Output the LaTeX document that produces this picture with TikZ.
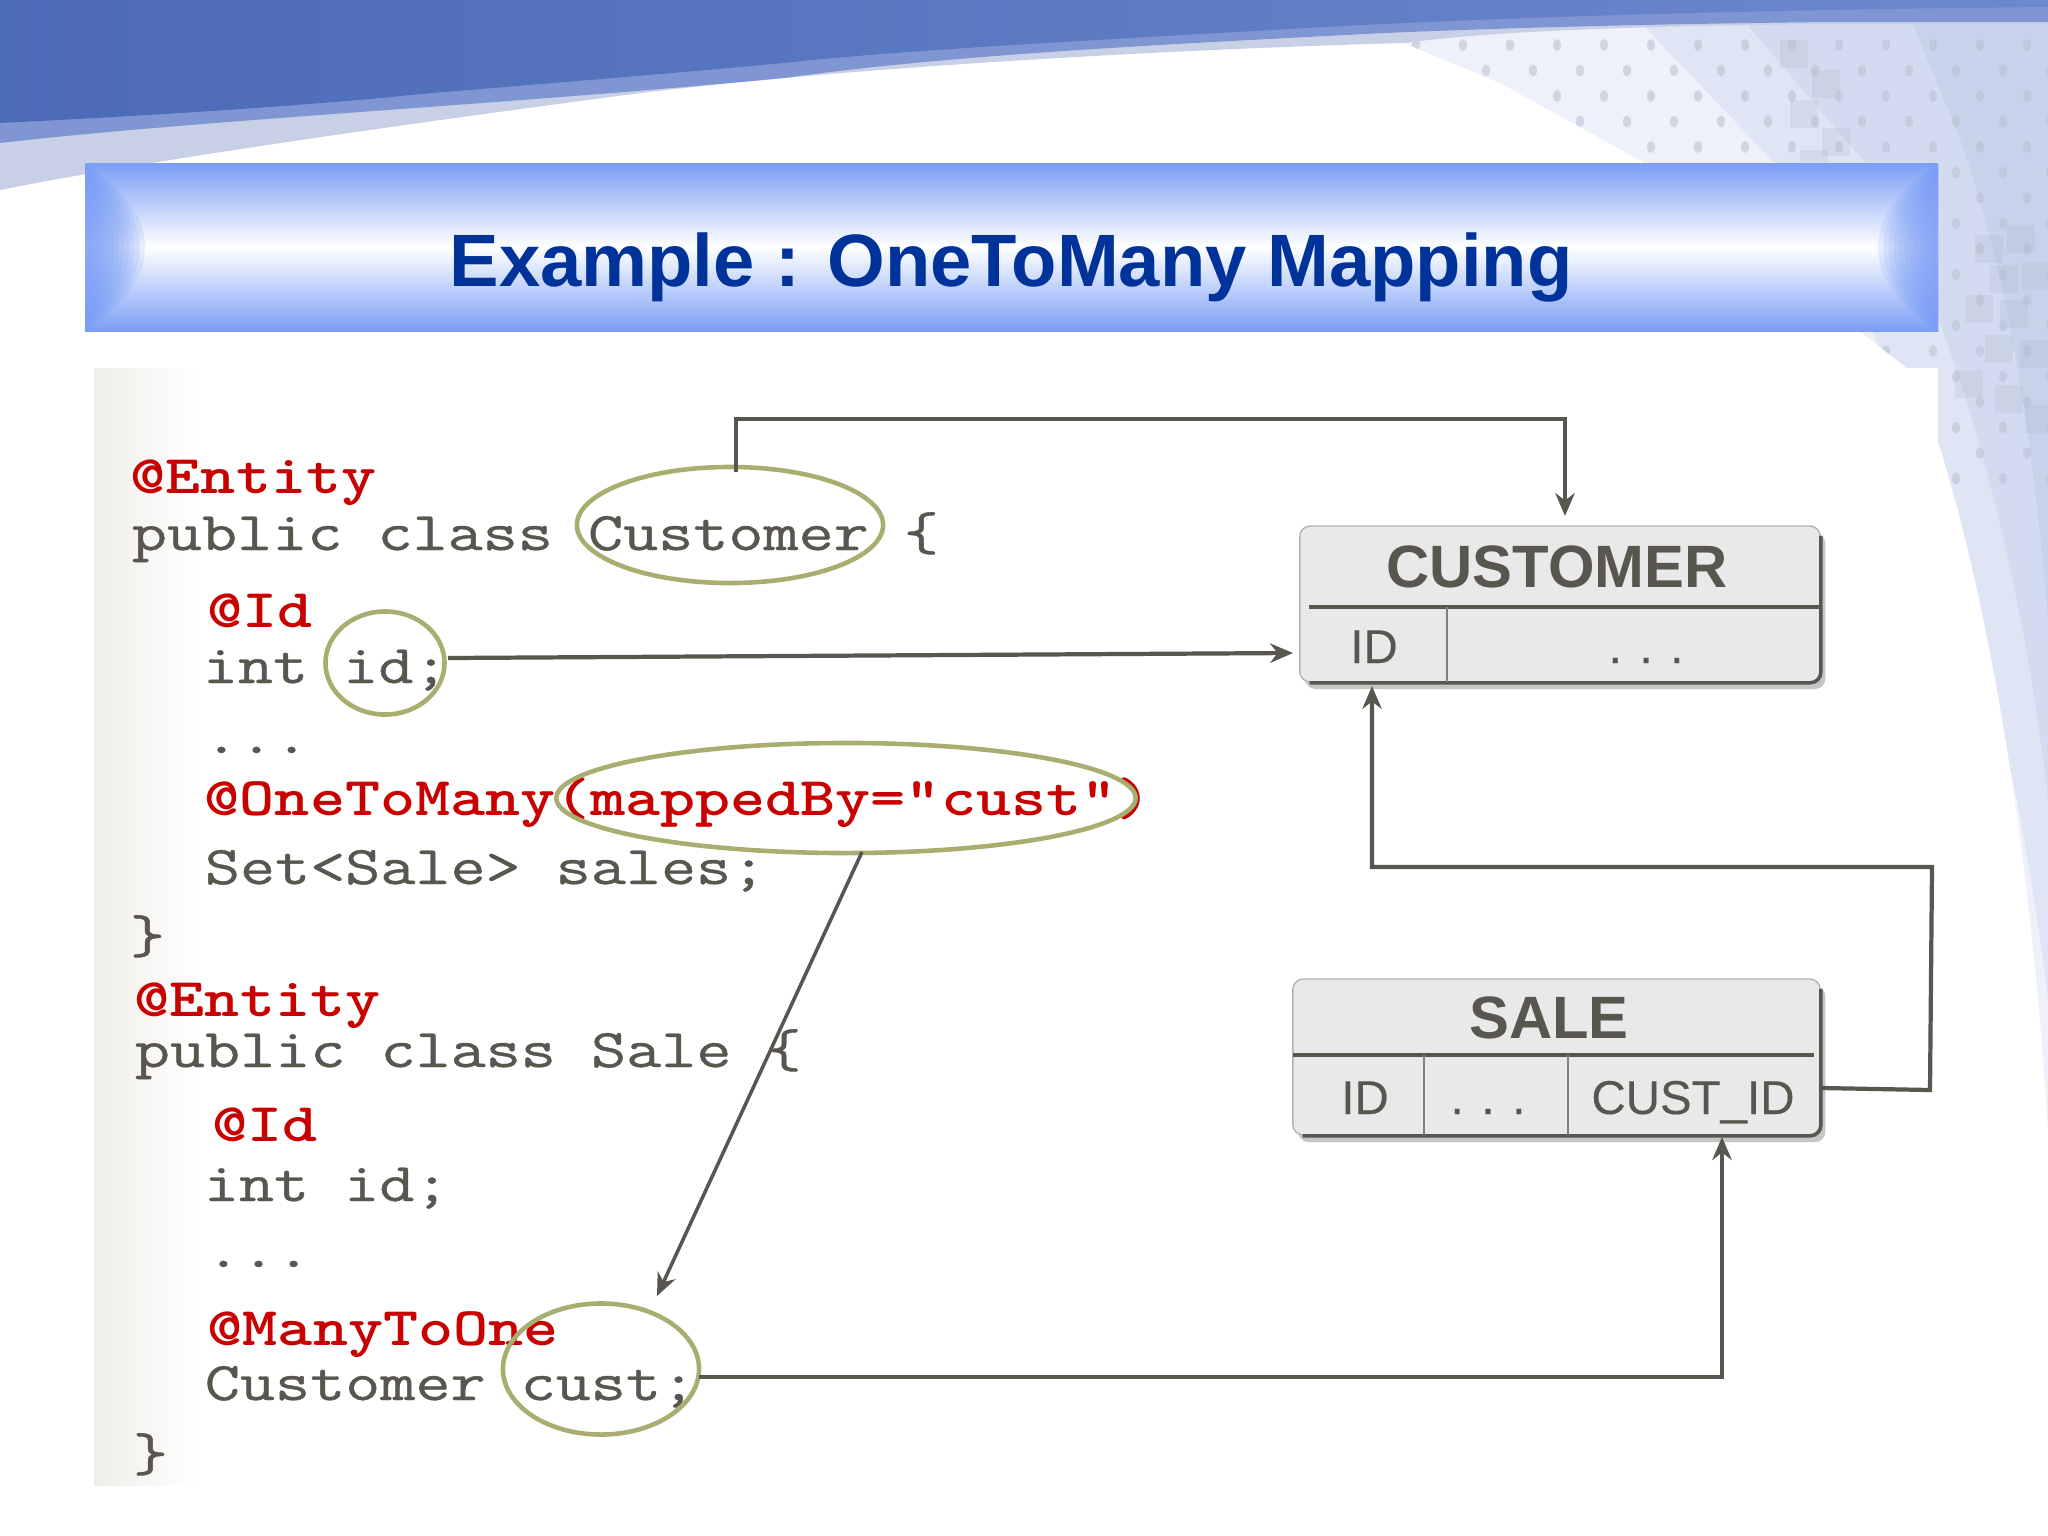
\documentclass[tikz,border=0pt]{standalone}
\usepackage{fontspec}
\setmainfont{Liberation Sans}
\newfontfamily\codefont[FakeBold=0.7]{Latin Modern Mono}
\newfontfamily\cellfont[FakeBold=0.3]{Liberation Sans}
\usetikzlibrary{shapes.geometric,shadows,arrows.meta}
\definecolor{linegray}{HTML}{595650}
\definecolor{codered}{HTML}{C80000}
\definecolor{ringolive}{HTML}{A9AE70}
\definecolor{titleblue}{HTML}{7A9EF6}
\definecolor{titleink}{HTML}{003399}
\definecolor{boxgray}{HTML}{E9E9E9}
\definecolor{panelwarm}{HTML}{F0EEEA}
\definecolor{paleA}{HTML}{EEF0FA}
\definecolor{paleB}{HTML}{E0E5F5}
\definecolor{paleC}{HTML}{D3DBF0}
\definecolor{paleD}{HTML}{C6D3EA}
\definecolor{swooshA}{HTML}{C8D0E6}
\definecolor{swooshB}{HTML}{7F96D3}
\definecolor{swooshC}{HTML}{5273C6}
\tikzset{
    palearea/.style={insert path={(1404,43) -- (1500,83) -- (1640,160) -- (1907,368) -- (1938,441)
        .. controls (1985,590) and (2030,830) .. (2048,1132) -- (2048,0) -- (1404,0) -- cycle}},
    codeline/.style={anchor=base west, inner sep=0pt, xscale=1.25, transform shape, text=linegray,
        font=\fontsize{15.5}{18}\selectfont\codefont},
    codemark/.style={anchor=base west, inner sep=0pt, xscale=1.225, transform shape, text=codered,
        font=\fontsize{15.5}{18}\selectfont\ttfamily\bfseries},
    ring/.style={ellipse, draw=ringolive, line width=1.3pt, inner sep=0pt},
    tablebox/.style={draw=gray!60, fill=boxgray, rounded corners=3pt, inner sep=0pt,
        drop shadow={shadow xshift=1.5pt, shadow yshift=-2pt, opacity=.45}},
    boxedge/.style={draw=linegray, line width=1pt, rounded corners=3pt, shorten <=3pt, shorten >=3pt},
    rowline/.style={draw=linegray, line width=1.1pt},
    colline/.style={draw=gray, line width=.8pt},
    tablehead/.style={anchor=base, inner sep=0pt, text=linegray, font=\fontsize{17}{20}\selectfont\bfseries},
    tablecell/.style={anchor=base, inner sep=0pt, text=linegray, font=\fontsize{13.5}{16}\selectfont\cellfont},
    link/.style={draw=linegray, line width=1.2pt, -{Stealth[length=6.5pt,width=5.5pt]}}
}
\begin{document}
\begin{tikzpicture}[x=0.01cm, y=-0.01cm]
    \useasboundingbox (0,0) rectangle (2048,1536);
    \fill[white] (0,0) rectangle (2048,1536);
    \fill[paleA, palearea];
    \begin{scope}
        \clip[palearea];
        \fill[paleB] (1640,22) -- (1772,160) .. controls (1880,300) and (2000,600) .. (2048,1000) -- (2048,22) -- cycle;
        \fill[paleC] (1745,22) -- (1863,160) .. controls (1950,300) and (2020,550) .. (2048,800) -- (2048,22) -- cycle;
        \fill[paleD] (1912,22) -- (1958,133) .. controls (2000,250) and (2030,400) .. (2048,620) -- (2048,22) -- cycle;
        \foreach \row in {0,...,17}
            \foreach \col in {0,...,14}
                \fill[gray!30!paleC, opacity=.55] ({1416+47*\col+23*mod(\row,2)},{45+25.5*\row}) ellipse (4 and 6);
        \foreach \sx/\sy in {1780/40, 1812/70, 1790/100, 1822/128, 1800/150, 1975/235, 2007/225, 1990/265, 2022/262, 1965/295, 2000/300, 1985/335, 2020/340, 1955/370, 1995/385, 2025/405}
            \fill[paleD!70!gray, opacity=.25] (\sx,\sy) rectangle ++(28,28);
    \end{scope}
    \fill[swooshA] (0,0) -- (2048,0) -- (2048,24) -- (1829,24) .. controls (1650,26) and (1500,30) .. (1404,43)
        .. controls (1150,50) and (800,70) .. (588,100) .. controls (400,125) and (150,160) .. (0,190) -- cycle;
    \fill[swooshB] (0,0) -- (2048,0) -- (2048,22) -- (1829,22) .. controls (1650,24) and (1500,28) .. (1385,33)
        .. controls (1150,45) and (950,55) .. (784,78) .. controls (500,105) and (200,120) .. (0,143) -- cycle;
    \shade[left color=swooshC!92!black, right color=swooshB!60!swooshC] (0,0) -- (2048,0) -- (2048,7)
        .. controls (1700,10) and (1450,20) .. (1306,28) .. controls (1100,40) and (900,50) .. (784,63)
        .. controls (600,80) and (400,95) .. (392,97) .. controls (250,110) and (100,118) .. (0,123) -- cycle;
    \fill[white] (94,368) rectangle (1938,1485);
    \shade[left color=panelwarm, right color=white] (94,368) rectangle (200,1485);
    \shade[top color=titleblue, bottom color=titleblue, middle color=white] (85,163) rectangle (1938,331);
    \foreach \w in {10,17,...,80} {
        \fill[titleblue, opacity=.16] (85,163) .. controls (85+\w,215) and (85+\w,280) .. (85,331) -- cycle;
        \fill[titleblue, opacity=.16] (1938,163) .. controls (1938-\w,215) and (1938-\w,280) .. (1938,331) -- cycle;
    }
    \node[anchor=base, inner sep=0pt, text=titleink, font=\fontsize{21.1}{26}\selectfont\bfseries] (titletext) at (1011,286) {Example : OneToMany Mapping};

    \node[codemark] (entityone) at (130,493) {@Entity};
    \node[codeline] (classone) at (131,550) {public class Customer \{};
    \node[codemark] (idone) at (207,627) {@Id};
    \node[codeline] (fieldone) at (202,683) {int id;};
    \node[codeline] (dotsone) at (203,753) {...};
    \node[codemark] (onetomany) at (204,815) {@OneToMany(mappedBy=“cust”)};
    \node[codeline] (setsale) at (204,884) {Set<Sale> sales;};
    \node[codeline] (closeone) at (129,953) {\}};
    \node[codemark] (entitytwo) at (134,1016) {@Entity};
    \node[codeline] (classtwo) at (134,1067) {public class Sale \{};
    \node[codemark] (idtwo) at (212,1141) {@Id};
    \node[codeline] (fieldtwo) at (203,1201) {int id;};
    \node[codeline] (dotstwo) at (205,1267) {...};
    \node[codemark] (manytoone) at (207,1345) {@ManyToOne};
    \node[codeline] (custfield) at (204,1400) {Customer cust;};
    \node[codeline] (closetwo) at (132,1471) {\}};

    \node[ring, minimum width=3.06cm, minimum height=1.16cm] (ringcustomer) at (730,525) {};
    \node[ring, minimum width=1.19cm, minimum height=1.03cm] (ringid) at (385,663) {};
    \node[ring, minimum width=5.79cm, minimum height=1.10cm] (ringmapped) at (846,798) {};
    \node[ring, minimum width=1.96cm, minimum height=1.31cm] (ringcust) at (601,1369) {};

    \node[tablebox, minimum width=5.2cm, minimum height=1.56cm] (customerbox) at (1560,604) {};
    \draw[boxedge] (customerbox.north east) -- (customerbox.south east) -- (customerbox.south west);
    \draw[rowline] (1309,607) -- (1822,607);
    \draw[colline] (1447,607) -- (1447,682);
    \node[tablehead] (customerhead) at (1557,587) {CUSTOMER};
    \node[tablecell] (customerid) at (1374,663) {ID};
    \node[tablecell] (customerdots) at (1646,663) {. . .};

    \node[tablebox, minimum width=5.27cm, minimum height=1.56cm] (salebox) at (1556.5,1057) {};
    \draw[boxedge] (salebox.north east) -- (salebox.south east) -- (salebox.south west);
    \draw[rowline] (1293,1055) -- (1814,1055);
    \draw[colline] (1424,1055) -- (1424,1135);
    \draw[colline] (1568,1055) -- (1568,1135);
    \node[tablehead] (salehead) at (1549,1038) {SALE};
    \node[tablecell] (saleid) at (1365,1114) {ID};
    \node[tablecell] (saledots) at (1488,1114) {. . .};
    \node[tablecell] (salecustid) at (1693,1114) {CUST\_ID};

    \coordinate (customerstart) at (736,472);
    \coordinate (customerbend) at (1565,419);
    \coordinate (customerend) at (1565,516);
    \coordinate (idstart) at (448,658);
    \coordinate (idend) at (1293,653);
    \coordinate (fkstart) at (1822,1088);
    \coordinate (fkcornera) at (1930,1090);
    \coordinate (fkcornerb) at (1932,867);
    \coordinate (fkend) at (1372,686);
    \coordinate (mappedstart) at (862,852);
    \coordinate (mappedend) at (657,1296);
    \coordinate (custstart) at (699,1377);
    \coordinate (custend) at (1722,1137);
    \draw[link] (customerstart) |- (customerbend) -- (customerend);
    \draw[link] (idstart) -- (idend);
    \draw[link] (fkstart) -- (fkcornera) -- (fkcornerb) -| (fkend);
    \draw[link, line width=1pt] (mappedstart) -- (mappedend);
    \draw[link] (custstart) -| (custend);
\end{tikzpicture}
\end{document}
